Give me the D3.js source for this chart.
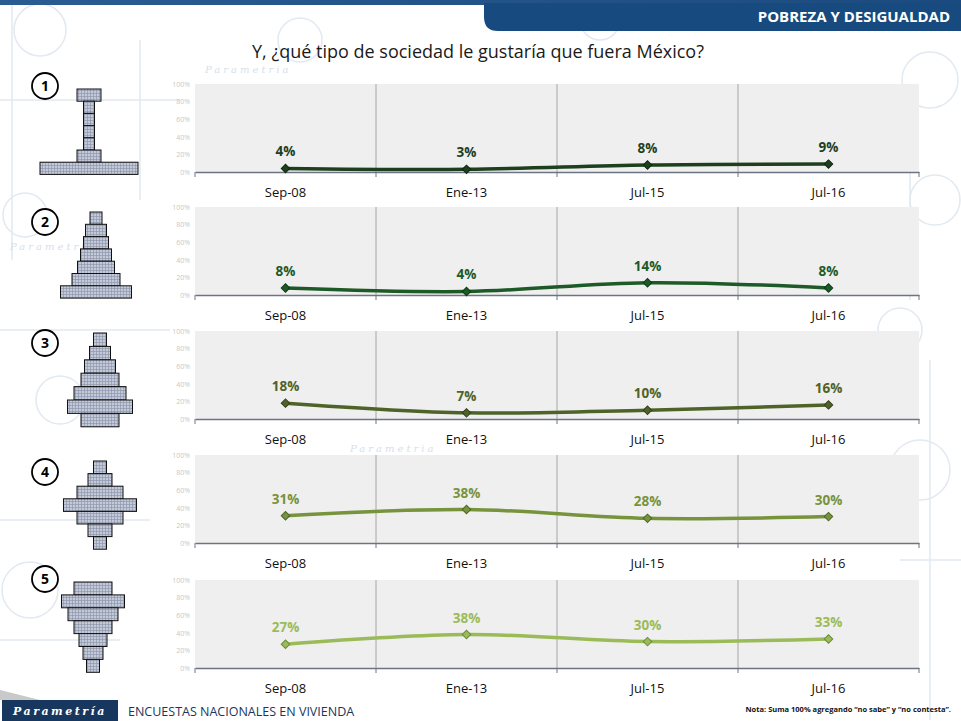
<!DOCTYPE html>
<html lang="es">
<head>
<meta charset="UTF-8">
<title>Pobreza y desigualdad</title>
<script src="https://d3js.org/d3.v7.min.js"></script>
<style>
  body { margin: 0; background: #fff; }
  svg { display: block; }
  svg text { font-family: "Open Sans", "Noto Sans", sans-serif; }
</style>
</head>
<body>
<script>
// datos
var categorias = ['Sep-08', 'Ene-13', 'Jul-15', 'Jul-16'];
var sociedad1 = [4, 3, 8, 9];
var sociedad2 = [8, 4, 14, 8];
var sociedad3 = [18, 7, 10, 16];
var sociedad4 = [31, 38, 28, 30];
var sociedad5 = [27, 38, 30, 33];
var ticksY = [0, 20, 40, 60, 80, 100];

var series = [sociedad1, sociedad2, sociedad3, sociedad4, sociedad5];
var colores = ['#1e3f1e', '#1d5a28', '#4f6228', '#77933c', '#9bbb59'];
var bordes = ['#102610', '#0f3a16', '#34421a', '#4f6428', '#6b8a3a'];

// anchos de cada piso de las piramides (dibujo decorativo)
var iconos = [
    { cx: 89, top: 89, h: 12.2, anchos: [24, 11, 11, 11, 11, 24, 98] },
    { cx: 96, top: 212, h: 12.3, anchos: [12, 21, 25, 31, 37, 48, 71] },
    { cx: 100, top: 333, h: 13.4, anchos: [13, 21, 31, 38, 52, 65, 38] },
    { cx: 100, top: 461, h: 12.6, anchos: [13, 24, 46, 73, 46, 24, 13] },
    { cx: 93, top: 582, h: 12.9, anchos: [38, 63, 50, 38, 28, 20, 13] }
];

var W = 961, H = 721;
var svg = d3.select('body').append('svg')
    .attr('width', W)
    .attr('height', H);

var defs = svg.append('defs');
var pat = defs.append('pattern')
    .attr('id', 'rejilla')
    .attr('width', 3).attr('height', 3)
    .attr('patternUnits', 'userSpaceOnUse');
pat.append('rect').attr('width', 3).attr('height', 3).attr('fill', '#c2c9d8');
pat.append('path').attr('d', 'M0,0.5H3M0.5,0V3').attr('stroke', '#8991a6').attr('stroke-width', 0.6);

var grad = defs.append('linearGradient').attr('id', 'franja').attr('x1', 0).attr('x2', 1);
grad.append('stop').attr('offset', '0%').attr('stop-color', '#2b5d92');
grad.append('stop').attr('offset', '100%').attr('stop-color', '#1b4a7e');

// marca de agua (fondo tenue)
var fondo = svg.append('g').attr('stroke', '#e2e9f1').attr('fill', 'none').attr('stroke-width', 1.5);
[[40, 30, 26], [300, 40, 22], [600, 20, 20], [930, 80, 28], [25, 215, 22], [935, 200, 25],
 [60, 400, 24], [900, 330, 22], [30, 590, 28], [920, 470, 30], [860, 620, 24], [440, 350, 18]]
    .forEach(function(c) {
        fondo.append('circle').attr('cx', c[0]).attr('cy', c[1]).attr('r', c[2]);
    });
[[0, 100, 180, 100], [12, 0, 12, 260], [910, 90, 910, 300], [0, 330, 170, 330], [930, 360, 930, 720],
 [0, 520, 150, 520], [140, 40, 140, 200], [900, 560, 961, 560], [0, 640, 120, 640]]
    .forEach(function(l) {
        fondo.append('line').attr('x1', l[0]).attr('y1', l[1]).attr('x2', l[2]).attr('y2', l[3]);
    });
var marcas = svg.append('g')
    .attr('fill', '#d6e0eb');
[[205, 73], [10, 250], [350, 452]]
    .forEach(function(p) {
        marcas.append('text').attr('x', p[0]).attr('y', p[1])
            .style('font-family', 'DejaVu Serif, serif')
            .style('font-style', 'italic')
            .style('font-size', '10px')
            .style('letter-spacing', '3px')
            .text('Parametria');
    });

// encabezado
svg.append('rect').attr('x', 0).attr('y', 0).attr('width', W).attr('height', 5).attr('fill', 'url(#franja)');
svg.append('path')
    .attr('d', 'M484,3H961V31H498Q484,31 484,17Z')
    .attr('fill', '#174a7e');
svg.append('text')
    .attr('x', 950).attr('y', 22)
    .attr('text-anchor', 'end')
    .attr('fill', '#fff')
    .style('font-size', '15px')
    .style('font-weight', 'bold')
    .text('POBREZA Y DESIGUALDAD');

svg.append('text')
    .attr('x', 478).attr('y', 58)
    .attr('text-anchor', 'middle')
    .attr('fill', '#1a1a1a')
    .style('font-size', '18px')
    .text('Y, ¿qué tipo de sociedad le gustaría que fuera México?');

// escalas compartidas
var x = d3.scaleBand().domain(categorias).range([195, 919]);
var alto = 88;
var arribas = [84, 207, 331, 455, 580];

var linea = d3.line().curve(d3.curveCatmullRom.alpha(0.5));

series.forEach(function(valores, i) {
    var top = arribas[i];
    var y = d3.scaleLinear().domain([0, 100]).range([top + alto, top]);
    var g = svg.append('g');

    g.append('rect')
        .attr('x', x.range()[0]).attr('y', top)
        .attr('width', x.range()[1] - x.range()[0]).attr('height', alto)
        .attr('fill', '#efefef');

    // divisiones verticales entre categorias
    g.selectAll('.div')
        .data(categorias.slice(1))
        .enter().append('line')
        .attr('x1', function(d) { return x(d); })
        .attr('x2', function(d) { return x(d); })
        .attr('y1', top).attr('y2', top + alto)
        .attr('stroke', '#a6a6a6').attr('stroke-width', 1);

    // eje y (etiquetas tenues)
    var ejeY = g.append('g')
        .attr('transform', 'translate(' + (x.range()[0] - 2) + ',0)')
        .call(d3.axisLeft(y).tickValues(ticksY).tickSize(0).tickFormat(function(d) { return d + '%'; }));
    ejeY.attr('font-family', null);
    ejeY.select('.domain').remove();
    ejeY.selectAll('text').attr('fill', '#c8c8c8').style('font-size', '7px');

    // eje x
    var ejeX = g.append('g')
        .attr('transform', 'translate(0,' + (top + alto) + ')')
        .call(d3.axisBottom(x).tickSize(0).tickPadding(16));
    ejeX.attr('font-family', null);
    ejeX.select('.domain').attr('stroke', '#6c7483').attr('stroke-width', 1.5);
    ejeX.selectAll('text').attr('fill', '#111').style('font-size', '13px');
    g.selectAll('.marca')
        .data(categorias.concat(['fin']))
        .enter().append('line')
        .attr('x1', function(d, k) { return k < categorias.length ? x(d) : x.range()[1]; })
        .attr('x2', function(d, k) { return k < categorias.length ? x(d) : x.range()[1]; })
        .attr('y1', top + alto).attr('y2', top + alto + 5)
        .attr('stroke', '#6c7483').attr('stroke-width', 1);

    var puntos = valores.map(function(v, k) {
        return [x(categorias[k]) + x.bandwidth() / 2, y(v)];
    });

    g.append('path')
        .attr('d', linea(puntos))
        .attr('fill', 'none')
        .attr('stroke', colores[i])
        .attr('stroke-width', 3.5);

    g.selectAll('.punto')
        .data(puntos)
        .enter().append('path')
        .attr('transform', function(d) { return 'translate(' + d[0] + ',' + d[1] + ') rotate(45)'; })
        .attr('d', d3.symbol(d3.symbolSquare, 36))
        .attr('fill', colores[i])
        .attr('stroke', bordes[i])
        .attr('stroke-width', 1);

    g.selectAll('.etiqueta')
        .data(valores)
        .enter().append('text')
        .attr('x', function(d, k) { return puntos[k][0]; })
        .attr('y', function(d, k) { return puntos[k][1] - 12; })
        .attr('text-anchor', 'middle')
        .attr('fill', colores[i])
        .style('font-size', '13.5px')
        .style('font-weight', 'bold')
        .text(function(d) { return d + '%'; });
});

// iconos: numero y piramide
var centrosNum = [86, 222, 343, 472, 579];
iconos.forEach(function(ic, i) {
    svg.append('circle')
        .attr('cx', 45).attr('cy', centrosNum[i]).attr('r', 13)
        .attr('fill', '#fff').attr('stroke', '#000').attr('stroke-width', 1.8);
    svg.append('text')
        .attr('x', 45).attr('y', centrosNum[i] + 5)
        .attr('text-anchor', 'middle')
        .style('font-size', '14px').style('font-weight', 'bold')
        .text(i + 1);
    svg.append('g').selectAll('rect')
        .data(ic.anchos)
        .enter().append('rect')
        .attr('x', function(d) { return ic.cx - d / 2; })
        .attr('y', function(d, k) { return ic.top + k * ic.h; })
        .attr('width', function(d) { return d; })
        .attr('height', ic.h)
        .attr('fill', 'url(#rejilla)')
        .attr('stroke', '#111').attr('stroke-width', 1);
});

// pie
svg.append('path').attr('d', 'M0,690L40,700H0Z').attr('fill', '#c9c9c9');
svg.append('rect').attr('x', 2).attr('y', 700).attr('width', 116).attr('height', 21).attr('fill', '#17375e');
svg.append('text')
    .attr('x', 60).attr('y', 715)
    .attr('text-anchor', 'middle')
    .attr('fill', '#fff')
    .style('font-family', 'DejaVu Serif, serif')
    .style('font-style', 'italic')
    .style('font-weight', 'bold')
    .style('font-size', '11px')
    .style('letter-spacing', '2.5px')
    .text('Parametría');
svg.append('text')
    .attr('x', 128).attr('y', 716)
    .attr('fill', '#17375e')
    .style('font-size', '12.5px')
    .text('ENCUESTAS NACIONALES EN VIVIENDA');
svg.append('text')
    .attr('x', 951).attr('y', 712)
    .attr('text-anchor', 'end')
    .attr('fill', '#111')
    .style('font-size', '7.5px')
    .style('font-weight', 'bold')
    .text('Nota: Suma 100%  agregando “no sabe” y “no contesta”.');
</script>
</body>
</html>
